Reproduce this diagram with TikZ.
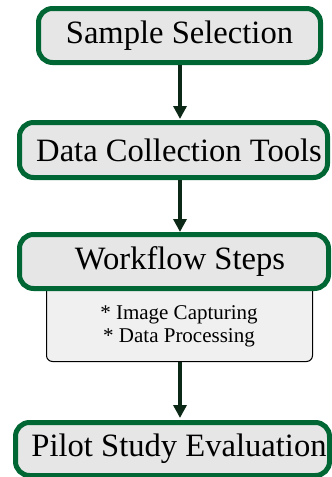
\documentclass[tikz,border=0pt]{standalone}
\usepackage{fontspec}
\setmainfont{Liberation Serif}
\usetikzlibrary{arrows.meta}
\definecolor{boxgreen}{RGB}{0,102,51}
\definecolor{boxfill}{RGB}{230,230,230}
\definecolor{subfill}{RGB}{240,240,240}
\definecolor{arrowcol}{RGB}{12,40,22}
\tikzset{
  stagebox/.style={draw=boxgreen, fill=boxfill, line width=5pt, rounded corners=14pt, inner sep=0pt},
  stagetext/.style={font=\fontsize{21}{23}\selectfont, inner sep=0pt, transform shape, scale=1.552},
  subbox/.style={draw=black, fill=subfill, line width=1pt, rounded corners=6pt, inner sep=0pt},
  subtext/.style={font=\fontsize{21}{23}\selectfont, align=center, inner sep=0pt},
  flow/.style={draw=arrowcol, line width=4pt, -{Triangle[width=13pt,length=13pt]}}
}
\begin{document}
\begin{tikzpicture}[x=1pt,y=-1pt]
\useasboundingbox (0,0) rectangle (332,477);
% boxes
\node[stagebox, minimum width=282pt, minimum height=54pt] (b1) at (179.5,35.5) {};
\node[stagetext] (t1) at ([xshift=0pt]b1.center) {Sample Selection};
\node[stagebox, minimum width=308pt, minimum height=55pt] (b2) at (173.5,150) {};
\node[stagetext] (t2) at ([xshift=5.5pt]b2.center) {Data Collection Tools};
\node[subbox, minimum width=266pt, minimum height=92pt] (s3) at (179.5,315.5) {};
\node[stagebox, minimum width=309pt, minimum height=54pt] (b3) at (174,261.5) {};
\node[stagetext] (t3) at ([xshift=6pt]b3.center) {Workflow Steps};
\node[subtext] (st3) at (179,326.5) {* Image Capturing\\* Data Processing};
\node[stagebox, minimum width=314pt, minimum height=53pt] (b4) at (172.5,449) {};
\node[stagetext] (t4) at ([xshift=6.5pt]b4.center) {Pilot Study Evaluation};
% arrows
\coordinate (a1s) at (180,65);
\coordinate (a1e) at (180,119);
\coordinate (a2s) at (180,180);
\coordinate (a2e) at (180,232);
\coordinate (a3s) at (180,362);
\coordinate (a3e) at (180,418);
\draw[flow] (a1s) -- (a1e);
\draw[flow] (a2s) -- (a2e);
\draw[flow] (a3s) -- (a3e);
\end{tikzpicture}
\end{document}
